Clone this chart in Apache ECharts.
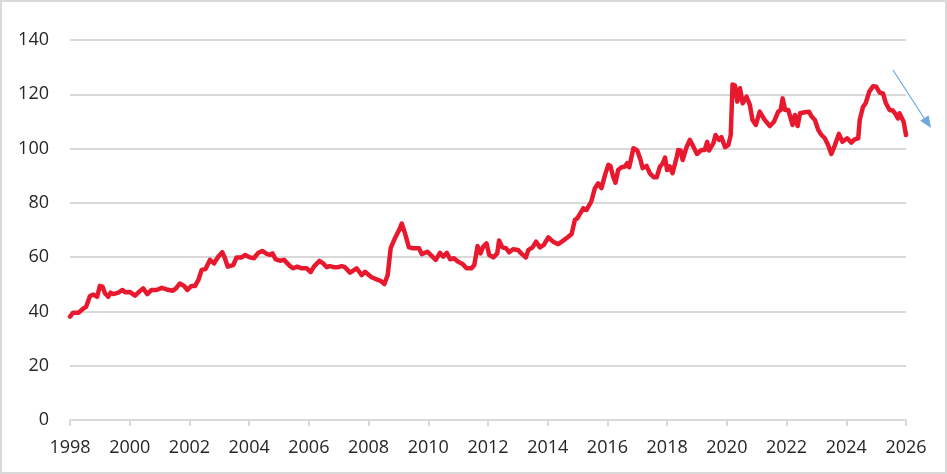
<!DOCTYPE html>
<html>
<head>
<meta charset="utf-8">
<script src="https://cdn.jsdelivr.net/npm/echarts@6/dist/echarts.min.js"></script>
<style>
html,body{margin:0;padding:0;background:#fff;}
#chart{width:947px;height:474px;}
</style>
</head>
<body>
<div id="chart"></div>
<script>
// Time in decimal years
const years = [
1998.00,1998.10,1998.28,1998.45,1998.54,1998.67,1998.78,1998.91,1999.00,1999.09,1999.17,1999.28,1999.36,1999.45,1999.62,1999.76,1999.84,
2000.00,2000.18,2000.32,2000.45,2000.59,2000.73,2000.90,2001.07,2001.24,2001.44,2001.55,2001.68,2001.82,2001.93,
2002.07,2002.19,2002.30,2002.41,2002.54,2002.69,2002.82,2002.97,2003.10,2003.19,2003.28,2003.47,2003.58,2003.75,2003.87,
2004.03,2004.16,2004.31,2004.44,2004.59,2004.70,2004.78,2004.89,2005.03,2005.17,2005.28,2005.37,2005.48,2005.61,2005.76,2005.93,
2006.06,2006.17,2006.35,2006.48,2006.60,2006.70,2006.84,2006.98,2007.10,2007.21,2007.38,2007.60,2007.77,2007.88,
2008.10,2008.27,2008.40,2008.53,2008.64,2008.74,2008.88,2009.05,2009.11,2009.22,2009.35,2009.50,2009.69,2009.78,2009.97,
2010.08,2010.25,2010.39,2010.50,2010.62,2010.73,2010.86,2011.00,2011.15,2011.28,2011.45,2011.54,2011.65,2011.75,2011.84,2011.95,
2012.04,2012.18,2012.31,2012.37,2012.48,2012.60,2012.71,2012.84,2013.01,2013.13,2013.27,2013.35,2013.49,2013.61,2013.74,2013.87,
2014.02,2014.18,2014.35,2014.52,2014.69,2014.80,2014.91,2014.99,2015.19,2015.30,2015.46,2015.58,2015.69,2015.80,2015.92,
2016.03,2016.10,2016.19,2016.27,2016.36,2016.47,2016.59,2016.66,2016.73,2016.87,2017.00,2017.11,2017.18,2017.31,2017.42,2017.56,2017.65,2017.76,2017.84,2017.93,
2018.00,2018.09,2018.18,2018.32,2018.37,2018.45,2018.52,2018.65,2018.76,2018.87,2019.00,2019.15,2019.26,2019.34,2019.40,2019.55,2019.62,2019.74,2019.82,2019.94,
2020.05,2020.13,2020.19,2020.27,2020.35,2020.44,2020.53,2020.66,2020.77,2020.86,2020.97,2021.10,2021.27,2021.44,2021.58,2021.72,2021.80,2021.87,2021.95,
2022.06,2022.20,2022.28,2022.37,2022.45,2022.61,2022.75,2022.84,2022.95,2023.06,2023.17,2023.28,2023.39,2023.50,2023.62,2023.75,2023.87,
2024.03,2024.17,2024.28,2024.40,2024.45,2024.56,2024.65,2024.77,2024.90,2025.00,2025.12,2025.23,2025.32,2025.45,2025.56,2025.65,2025.73,2025.78,2025.92,2026.00
];
const values = [
38.1,39.5,39.5,41.1,41.7,45.7,46.2,45.4,49.4,49.1,46.7,45.4,46.9,46.4,46.9,47.9,47.1,
47.2,45.8,47.3,48.5,46.4,47.9,47.9,48.7,48.1,47.6,48.5,50.3,49.4,47.9,
49.4,49.4,51.6,55.3,55.6,59.0,57.7,60.2,61.8,59.6,56.5,57.1,59.9,59.9,60.8,
59.9,59.6,61.6,62.3,61.2,60.8,61.4,59.2,58.7,59.0,57.7,56.7,55.9,56.5,55.9,55.9,
54.5,56.5,58.6,57.7,56.3,56.7,56.3,56.3,56.7,56.3,54.3,55.9,53.4,54.6,
52.6,51.8,51.3,50.1,53.4,63.3,66.9,70.6,72.4,68.8,63.6,63.3,63.3,61.1,62.0,
60.8,59.0,61.6,60.2,61.6,59.2,59.6,58.3,57.5,55.9,55.9,57.1,64.1,61.4,63.9,65.1,
60.8,59.9,61.4,66.1,63.6,63.3,61.8,62.9,62.6,61.2,59.9,62.6,63.6,65.7,63.6,64.5,
67.3,65.7,64.8,66.1,67.5,68.5,73.7,74.3,78.0,77.4,80.5,85.4,87.2,85.4,90.3,
94.0,93.6,89.7,87.4,92.1,93.1,93.4,94.6,93.1,100.1,99.3,95.8,92.8,93.6,90.9,89.4,89.4,93.4,94.3,96.7,
92.1,93.4,90.9,96.8,99.5,99.3,95.8,100.5,103.2,100.9,98.0,99.5,99.5,102.5,99.3,102.0,105.0,103.2,104.2,100.5,
101.3,105.0,123.6,123.3,117.3,122.2,116.7,119.1,116.1,110.5,108.7,113.6,110.5,108.3,109.9,113.6,114.2,118.5,114.2,
114.2,108.7,112.4,108.3,113.0,113.4,113.6,111.8,110.5,106.9,105.0,103.8,101.3,98.0,101.3,105.4,102.5,
103.8,102.2,103.4,103.8,110.5,115.4,116.7,121.0,123.0,122.8,120.6,120.3,116.9,114.2,114.0,112.7,111.1,113.0,109.9,105.0
];
const xTicks = [1998, 2026, 2];   // min, max, interval
const yTicks = [0, 140, 20];      // min, max, interval

const chart = echarts.init(document.getElementById('chart'), null, {renderer: 'canvas'});
const data = years.map((y, i) => [y, values[i]]);
const gridColor = '#d9d9d9';
const labelStyle = {color: '#262626', fontFamily: 'Open Sans', fontSize: 18};

chart.setOption({
  animation: false,
  backgroundColor: '#ffffff',
  grid: {left: 70, right: 41, top: 40, bottom: 54, containLabel: false},
  xAxis: {
    type: 'value',
    min: xTicks[0], max: xTicks[1], interval: xTicks[2],
    axisLine: {show: true, lineStyle: {color: gridColor, width: 2}},
    axisTick: {show: true, length: 6, lineStyle: {color: gridColor, width: 2}},
    axisLabel: Object.assign({margin: 19, formatter: v => String(v)}, labelStyle),
    splitLine: {show: false}
  },
  yAxis: {
    type: 'value',
    min: yTicks[0], max: yTicks[1], interval: yTicks[2],
    axisLine: {show: false},
    axisTick: {show: false},
    axisLabel: Object.assign({margin: 21}, labelStyle),
    splitLine: {show: true, lineStyle: {color: gridColor, width: 2}}
  },
  series: [{
    type: 'line',
    data: data,
    showSymbol: false,
    symbol: 'none',
    clip: false,
    lineStyle: {color: '#e8192f', width: 4.5, join: 'round', cap: 'round'}
  }],
  graphic: [
    {type: 'rect', shape: {x: 1, y: 1, width: 945, height: 472}, style: {fill: 'none', stroke: '#d9d9d9', lineWidth: 2}, silent: true},
    {type: 'line', shape: {x1: 893, y1: 70, x2: 924, y2: 118}, style: {stroke: '#6fa8dc', lineWidth: 1.2}, silent: true},
    {type: 'polygon', shape: {points: [[931, 128], [920.2, 120.7], [928.6, 115.3]]}, style: {fill: '#6fa8dc'}, silent: true}
  ]
});
</script>
</body>
</html>
